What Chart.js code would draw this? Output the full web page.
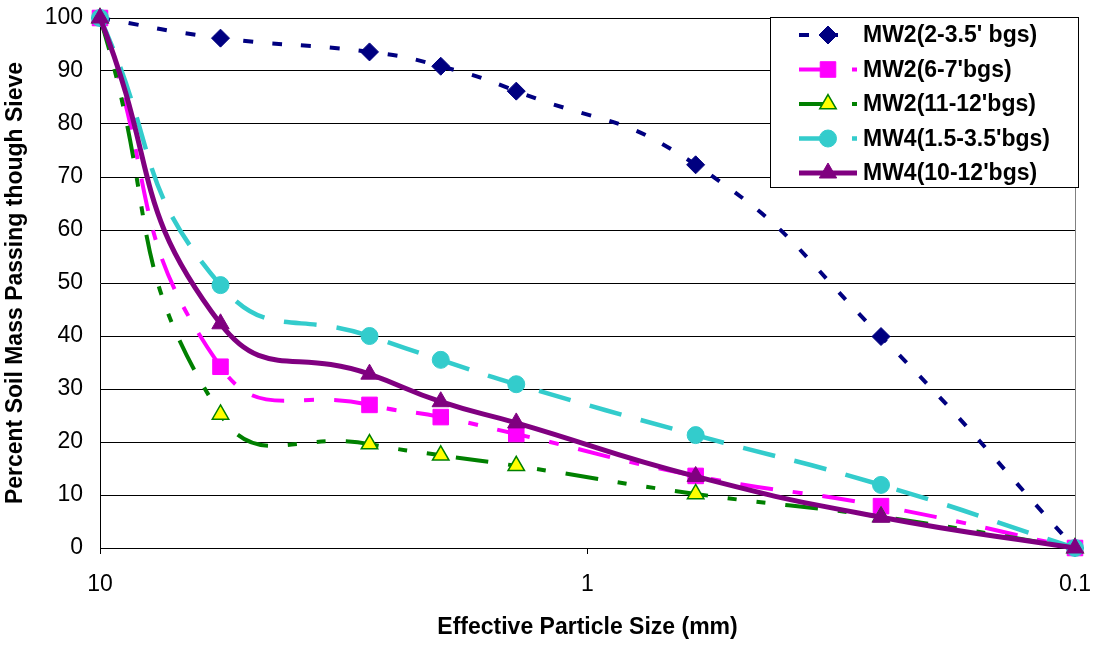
<!DOCTYPE html>
<html>
<head>
<meta charset="utf-8">
<title>Grain size distribution</title>
<script src="https://cdn.jsdelivr.net/npm/chart.js@4.4.1/dist/chart.umd.min.js"></script>
<style>
  html, body { margin: 0; padding: 0; background: #fff; }
  #wrap { position: relative; width: 1094px; height: 645px; }
</style>
</head>
<body>
<div id="wrap"><canvas id="sieveChart"></canvas></div>
<script>
// Sieve opening (mm) and percent passing
const sieveSizes = [10, 5.66, 2.8, 2.0, 1.4, 0.6, 0.25, 0.1];
const mw2Shallow = [100, 96.2, 93.6, 90.9, 86.2, 72.3, 39.9, 0];
const mw2Mid     = [100, 34.2, 27.0, 24.7, 21.5, 13.6, 7.9, 0];
const mw2Deep    = [100, 25.2, 19.6, 17.5, 15.5, 10.2, 5.9, 0];
const mw4Shallow = [100, 49.6, 40.0, 35.5, 30.9, 21.3, 11.9, 0];
const mw4Deep    = [100, 42.3, 32.8, 27.6, 23.6, 13.5, 5.8, 0];

const seriesNames = ["MW2(2-3.5' bgs)", "MW2(6-7'bgs)", "MW2(11-12'bgs)", "MW4(1.5-3.5'bgs)", "MW4(10-12'bgs)"];
const xTickValues = [10, 1, 0.1];

const FONT = "'Liberation Sans', Arial, sans-serif";
Chart.defaults.font.family = FONT;
Chart.defaults.color = '#000';

// pair sieve sizes with a series
function toPoints(values) {
    return sieveSizes.map((s, i) => ({ x: s, y: values[i] }));
}

function makeSeries(label, values, color, dash, style, radius, order, extra) {
    return Object.assign({
        label: label,
        data: toPoints(values),
        borderColor: color,
        borderWidth: 4,
        borderDash: dash,
        pointStyle: style,
        pointRadius: radius,
        pointHoverRadius: radius,
        pointBackgroundColor: color,
        pointBorderColor: color,
        pointBorderWidth: 1,
        tension: 0.5,
        clip: false,
        order: order
    }, extra || {});
}

const datasets = [
    makeSeries(seriesNames[0], mw2Shallow, '#000080', [10, 19], 'rectRot', 9, 5),
    makeSeries(seriesNames[1], mw2Mid, '#ff00ff', [33, 20, 10, 20], 'rect', 11, 4),
    makeSeries(seriesNames[2], mw2Deep, '#008000', [33, 20, 9, 20, 9, 20], 'triangle', 9.5, 3,
        { pointBackgroundColor: '#ffff00', pointBorderWidth: 1.5 }),
    makeSeries(seriesNames[3], mw4Shallow, '#33cccc', [33, 20], 'circle', 8.5, 2, { borderWidth: 4.5 }),
    makeSeries(seriesNames[4], mw4Deep, '#800080', [], 'triangle', 10, 1, { borderWidth: 5 })
];

// right edge of plot area + boxed legend with line samples
const excelLegend = {
    id: 'excelLegend',
    beforeDatasetsDraw(chart) {
        const { ctx, chartArea } = chart;
        ctx.save();
        ctx.strokeStyle = '#808080';
        ctx.lineWidth = 1;
        ctx.beginPath();
        ctx.moveTo(chartArea.right + 0.5, chartArea.top);
        ctx.lineTo(chartArea.right + 0.5, chartArea.bottom);
        ctx.stroke();
        ctx.restore();
    },
    afterDraw(chart) {
        const ctx = chart.ctx;
        const boxX = 770.5, boxY = 17.5, boxW = 308, boxH = 170;
        ctx.save();
        ctx.fillStyle = '#fff';
        ctx.fillRect(boxX, boxY, boxW, boxH);
        ctx.strokeStyle = '#000';
        ctx.lineWidth = 1;
        ctx.strokeRect(boxX, boxY, boxW, boxH);

        ctx.font = 'bold 23px ' + FONT;
        ctx.textBaseline = 'middle';
        ctx.textAlign = 'left';

        chart.data.datasets.forEach((ds, i) => {
            const y = 35 + i * 34.5;
            ctx.setLineDash(ds.borderDash || []);
            ctx.strokeStyle = ds.borderColor;
            ctx.lineWidth = ds.borderWidth;
            ctx.beginPath();
            ctx.moveTo(799, y);
            ctx.lineTo(857, y);
            ctx.stroke();

            ctx.setLineDash([]);
            ctx.fillStyle = ds.pointBackgroundColor;
            ctx.strokeStyle = ds.pointBorderColor;
            ctx.lineWidth = ds.pointBorderWidth;
            Chart.helpers.drawPoint(ctx, {
                pointStyle: ds.pointStyle,
                radius: ds.pointRadius,
                rotation: 0,
                borderWidth: ds.pointBorderWidth
            }, 828, y);

            ctx.fillStyle = '#000';
            ctx.fillText(ds.label, 863, y + 1);
        });
        ctx.restore();
    }
};

const ctx = document.getElementById('sieveChart').getContext('2d');
new Chart(ctx, {
    type: 'line',
    data: { datasets: datasets },
    plugins: [excelLegend],
    options: {
        responsive: true,
        maintainAspectRatio: false,
        animation: false,
        layout: {
            autoPadding: false,
            padding: { top: 18, right: 19, bottom: 0, left: 0 }
        },
        plugins: {
            legend: { display: false },
            tooltip: { enabled: false }
        },
        scales: {
            x: {
                type: 'logarithmic',
                reverse: true,
                min: 0.1,
                max: 10,
                afterBuildTicks: scale => {
                    scale.ticks = xTickValues.map(v => ({ value: v }));
                },
                afterFit: scale => {
                    scale.height = 97;
                    // labels fit inside the layout padding already
                    scale.paddingLeft = 0;
                    scale.paddingRight = 0;
                },
                ticks: {
                    font: { size: 23 },
                    padding: 17,
                    maxRotation: 0,
                    autoSkip: false,
                    callback: v => String(v)
                },
                grid: {
                    drawOnChartArea: false,
                    drawTicks: true,
                    tickLength: 6,
                    color: '#000'
                },
                border: { color: '#000', width: 1 },
                title: {
                    display: true,
                    text: 'Effective Particle Size (mm)',
                    font: { size: 23, weight: 'bold' },
                    padding: { top: 0, bottom: 4 }
                }
            },
            y: {
                min: 0,
                max: 100,
                afterFit: scale => {
                    scale.width = 100;
                    scale.paddingTop = 0;
                    scale.paddingBottom = 0;
                },
                ticks: {
                    stepSize: 10,
                    font: { size: 23 },
                    padding: 17
                },
                grid: {
                    color: '#000',
                    lineWidth: 1,
                    drawTicks: false
                },
                border: { color: '#000', width: 1 },
                title: {
                    display: true,
                    text: 'Percent Soil Mass Passing though Sieve',
                    font: { size: 23, weight: 'bold' },
                    padding: { top: 2, bottom: 0 }
                }
            }
        }
    }
});
</script>
</body>
</html>
